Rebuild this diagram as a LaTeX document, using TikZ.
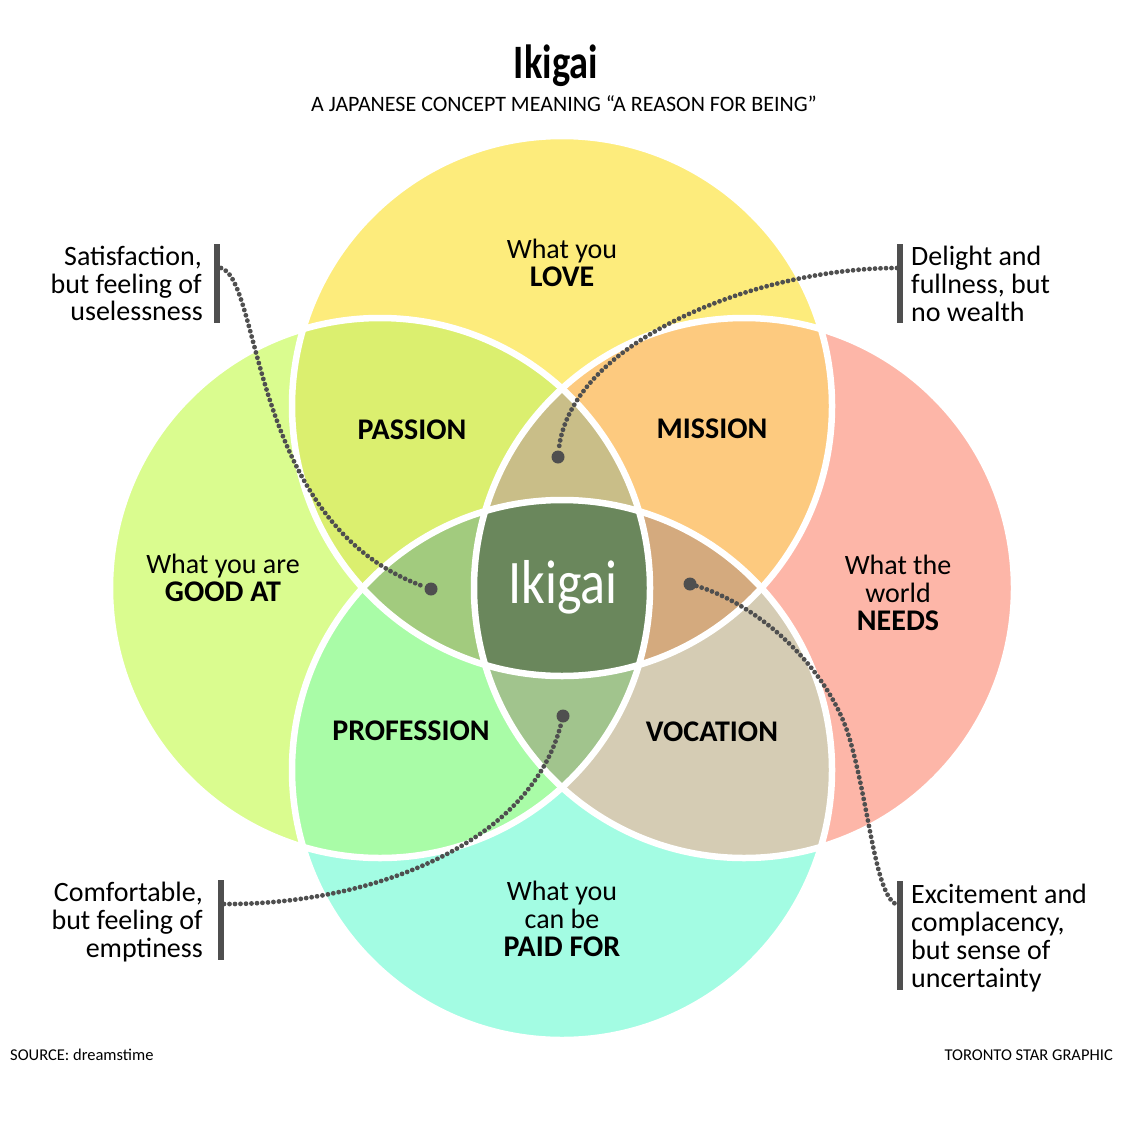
\documentclass[tikz,border=0pt]{standalone}
\usepackage{fontspec}
\setmainfont{Carlito}
\newfontfamily\condfont{Carlito}[FakeStretch=0.8]
\newfontfamily\centfont{Carlito}[FakeStretch=0.84]
\definecolor{cTop}{HTML}{FDEC7C}
\definecolor{cLeft}{HTML}{DAFC8F}
\definecolor{cRight}{HTML}{FDB6A8}
\definecolor{cBot}{HTML}{A3FCE3}
\definecolor{cTL}{HTML}{DBEF6F}
\definecolor{cTR}{HTML}{FDCA7F}
\definecolor{cLB}{HTML}{A9FCA7}
\definecolor{cRB}{HTML}{D5CCB4}
\definecolor{cTLR}{HTML}{C9BE88}
\definecolor{cTLB}{HTML}{A2CB7E}
\definecolor{cTRB}{HTML}{D4AA7E}
\definecolor{cLRB}{HTML}{A1C48D}
\definecolor{cAll}{HTML}{6A875C}
\definecolor{ink}{HTML}{4F4F4F}
\tikzset{
  lbl/.style={font=\fontsize{28}{28}\selectfont, inner sep=0pt, anchor=base, text=black},
  blbl/.style={font=\fontsize{30}{30}\selectfont\bfseries, inner sep=0pt, anchor=base, text=black},
  note/.style={font=\fontsize{28}{28}\selectfont, inner sep=0pt, text=black},
  foot/.style={font=\fontsize{16.5}{16.5}\selectfont, inner sep=0pt, text=black},
  bar/.style={draw=ink, line width=6pt},
  dotline/.style={draw=ink, line width=4.8pt, line cap=round, dash pattern=on 0pt off 5.5pt},
  dotend/.style={circle, fill=ink, inner sep=0pt, minimum size=13pt},
  ring/.style={draw=white, line width=6.5pt}
}
\begin{document}
\begin{tikzpicture}[x=1pt,y=-1pt]
\useasboundingbox (0,0) rectangle (1124,1142);
\fill[white] (0,0) rectangle (1124,1142);
\coordinate (T) at (562,406);
\coordinate (L) at (380,588);
\coordinate (R) at (744,588);
\coordinate (B) at (562,770);
\def\rr{270}
% single circles
\fill[cTop] (T) circle[radius=\rr];
\fill[cLeft] (L) circle[radius=\rr];
\fill[cRight] (R) circle[radius=\rr];
\fill[cBot] (B) circle[radius=\rr];
% pairs
\begin{scope}\clip (T) circle[radius=\rr]; \fill[cTL] (L) circle[radius=\rr];\end{scope}
\begin{scope}\clip (T) circle[radius=\rr]; \fill[cTR] (R) circle[radius=\rr];\end{scope}
\begin{scope}\clip (L) circle[radius=\rr]; \fill[cLB] (B) circle[radius=\rr];\end{scope}
\begin{scope}\clip (R) circle[radius=\rr]; \fill[cRB] (B) circle[radius=\rr];\end{scope}
% triples
\begin{scope}\clip (T) circle[radius=\rr]; \clip (L) circle[radius=\rr]; \fill[cTLR] (R) circle[radius=\rr];\end{scope}
\begin{scope}\clip (T) circle[radius=\rr]; \clip (L) circle[radius=\rr]; \fill[cTLB] (B) circle[radius=\rr];\end{scope}
\begin{scope}\clip (T) circle[radius=\rr]; \clip (R) circle[radius=\rr]; \fill[cTRB] (B) circle[radius=\rr];\end{scope}
\begin{scope}\clip (L) circle[radius=\rr]; \clip (R) circle[radius=\rr]; \fill[cLRB] (B) circle[radius=\rr];\end{scope}
% all four
\begin{scope}\clip (T) circle[radius=\rr]; \clip (L) circle[radius=\rr]; \clip (R) circle[radius=\rr]; \fill[cAll] (B) circle[radius=\rr];\end{scope}
% white outlines
\draw[ring] (T) circle[radius=\rr];
\draw[ring] (L) circle[radius=\rr];
\draw[ring] (R) circle[radius=\rr];
\draw[ring] (B) circle[radius=\rr];

% title
\node[font=\condfont\bfseries\fontsize{48}{48}\selectfont, inner sep=0pt, anchor=base] (title) at (556,79) {Ikigai};
\node[font=\fontsize{22}{22}\selectfont, inner sep=0pt, anchor=base] (subtitle) at (564,112) {A JAPANESE CONCEPT MEANING “A REASON FOR BEING”};

% circle labels
\node[lbl] (love1) at (562,258) {What you};
\node[blbl] (love2) at (562,286) {LOVE};
\node[lbl] (good1) at (223,573) {What you are};
\node[blbl] (good2) at (223,601) {GOOD AT};
\node[lbl] (need1) at (898,574) {What the};
\node[lbl] (need2) at (898,602) {world};
\node[blbl] (need3) at (898,630) {NEEDS};
\node[lbl] (paid1) at (562,900) {What you};
\node[lbl] (paid2) at (562,928) {can be};
\node[blbl] (paid3) at (562,956) {PAID FOR};
\node[blbl] (passion) at (412,439) {PASSION};
\node[blbl] (mission) at (712,438) {MISSION};
\node[blbl] (profession) at (411,740) {PROFESSION};
\node[blbl] (vocation) at (712,741) {VOCATION};
\node[font=\centfont\fontsize{62}{62}\selectfont, text=white, inner sep=0pt, anchor=base] (ikigai) at (563,603) {Ikigai};

% annotation texts
\node[note, anchor=base east] (sat1) at (202,265) {Satisfaction,};
\node[note, anchor=base east] (sat2) at (202,293) {but feeling of};
\node[note, anchor=base east] (sat3) at (203,320) {uselessness};
\node[note, anchor=base west] (del1) at (911,265) {Delight and};
\node[note, anchor=base west] (del2) at (911,293) {fullness, but};
\node[note, anchor=base west] (del3) at (911,321) {no wealth};
\node[note, anchor=base east] (com1) at (203,901) {Comfortable,};
\node[note, anchor=base east] (com2) at (203,929) {but feeling of};
\node[note, anchor=base east] (com3) at (203,957) {emptiness};
\node[note, anchor=base west] (exc1) at (911,903) {Excitement and};
\node[note, anchor=base west] (exc2) at (911,931) {complacency,};
\node[note, anchor=base west] (exc3) at (911,959) {but sense of};
\node[note, anchor=base west] (exc4) at (911,987) {uncertainty};

% bars
\coordinate (bar1a) at (216.5,244); \coordinate (bar1b) at (216.5,323);
\coordinate (bar2a) at (899.5,244); \coordinate (bar2b) at (899.5,323);
\coordinate (bar3a) at (221,880);   \coordinate (bar3b) at (221,960);
\coordinate (bar4a) at (899.5,881); \coordinate (bar4b) at (899.5,990);
\draw[bar] (bar1a) -- (bar1b);
\draw[bar] (bar2a) -- (bar2b);
\draw[bar] (bar3a) -- (bar3b);
\draw[bar] (bar4a) -- (bar4b);

% connector ends
\coordinate (s1) at (221,268);
\coordinate (s2) at (897,268);
\coordinate (s3) at (224,904);
\coordinate (s4) at (897,905);
\coordinate (m4) at (850,740);
\node[dotend] (d1) at (431,589) {};
\node[dotend] (d2) at (558,457) {};
\node[dotend] (d3) at (563,716) {};
\node[dotend] (d4) at (690,584) {};

\draw[dotline] (s1) .. controls (262,280) and (250,525) .. (d1);
\draw[dotline] (s2) .. controls (760,268) and (570,340) .. (d2);
\draw[dotline] (s3) .. controls (360,905) and (530,850) .. (d3);
\draw[dotline] (d4) .. controls (760,605) and (830,670) .. (m4) .. controls (870,810) and (875,895) .. (s4);

% footer
\node[foot, anchor=base west] (source) at (10,1060) {SOURCE: dreamstime};
\node[foot, anchor=base east] (credit) at (1113,1060) {TORONTO STAR GRAPHIC};
\end{tikzpicture}
\end{document}
